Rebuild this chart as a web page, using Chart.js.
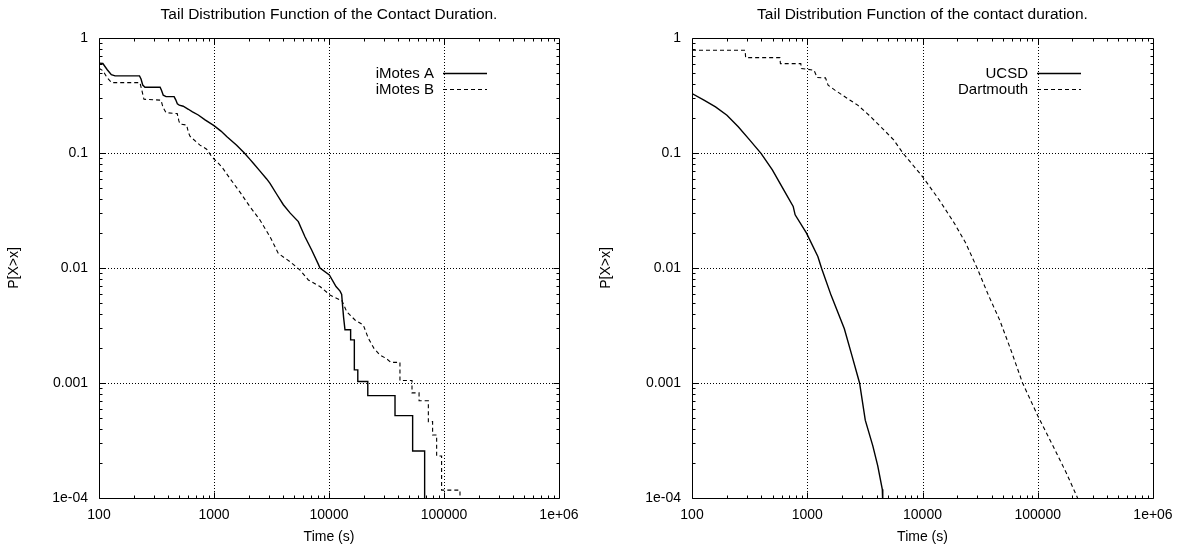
<!DOCTYPE html>
<html><head><meta charset="utf-8">
<script src="https://cdn.jsdelivr.net/npm/chart.js@4.4.1/dist/chart.umd.min.js"></script>
<style>
html,body{margin:0;padding:0;background:#fff;width:1185px;height:549px;overflow:hidden;}
#c1{position:absolute;left:0;top:0;}
#c2{position:absolute;left:592px;top:0;}
</style></head><body>
<canvas id="c1" width="592" height="549"></canvas>
<canvas id="c2" width="593" height="549"></canvas>
<script>
// ---- tick values & labels ----
const xTicks = [100, 1000, 10000, 100000, 1000000];
const xTickLabels = ['100', '1000', '10000', '100000', '1e+06'];
const yTicks = [1e-4, 1e-3, 1e-2, 1e-1, 1];
const yTickLabels = ['1e-04', '0.001', '0.01', '0.1', '1'];

// ---- left chart series ----
const imotesATime = [100,108,118,128,138,225,232,240,251,340,350,362,383,450,465,480,499,540,599,650,730,836,1000,1150,1289,1574,1836,2055,2198,2513,2870,3069,3500,4009,4600,5411,6180,7067,8070,8350,10070,11510,12480,12890,13100,13400,13770,15420,15420,16610,16610,17800,17800,21740,21740,37500,37500,53370,53370,67870,67870];
const imotesAProb = [0.605,0.6,0.53,0.48,0.468,0.468,0.44,0.39,0.373,0.373,0.35,0.318,0.309,0.309,0.29,0.268,0.261,0.255,0.24,0.228,0.214,0.194,0.173,0.155,0.139,0.117,0.1,0.088,0.0814,0.0695,0.0595,0.0545,0.044,0.0355,0.03,0.0253,0.0187,0.01435,0.0108,0.01,0.0087,0.0069,0.0063,0.0059,0.0048,0.0037,0.0029,0.0029,0.00237,0.00237,0.0013,0.0013,0.00103,0.00103,0.000776,0.000776,0.00052,0.00052,0.000256,0.000256,0.00005];
const imotesBTime = [100,108,118,129,227,236,246,346,360,383,479,495,506,578,600,618,700,755,863,955,1166,1377,1700,2055,2513,3069,3622,4580,5600,6610,8350,10200,12480,12890,14260,16830,19880,21970,24600,27700,31300,34600,41400,41400,52700,52700,60700,60700,73100,73100,79600,79600,86300,86300,95300,95300,137700,137700];
const imotesBProb = [0.545,0.52,0.45,0.409,0.409,0.35,0.293,0.288,0.25,0.224,0.22,0.19,0.179,0.175,0.15,0.14,0.125,0.117,0.108,0.093,0.076,0.06,0.045,0.0341,0.0261,0.0187,0.0134,0.01135,0.0096,0.00787,0.0069,0.00582,0.00527,0.00527,0.00417,0.00353,0.00319,0.00245,0.002,0.00175,0.00164,0.00151,0.00151,0.00105,0.00105,0.00082,0.00082,0.0007,0.0007,0.000461,0.000461,0.000353,0.000353,0.000232,0.000232,0.000117,0.000117,0.00005];

// ---- right chart series ----
const ucsdTime = [100,127,160,201,252,316,397,498,625,755,785,985,1236,1333,1611,2098,2442,2844,3187,3706,4090,4480,4520];
const ucsdProb = [0.329,0.288,0.252,0.213,0.169,0.13,0.0993,0.0713,0.0478,0.0343,0.029,0.0201,0.0126,0.0099,0.00578,0.00296,0.00173,0.001,0.000475,0.000284,0.00019,0.000119,0.00009];
const dartTime = [100,289,292,579,585,879,890,1000,1145,1219,1440,1517,1738,2022,2353,2739,3437,4479,5623,6792,10000,13960,18890,23700,29760,37340,46880,58880,73850,100000,135400,176600,221500,226000];
const dartProb = [0.782,0.782,0.675,0.675,0.599,0.599,0.542,0.535,0.525,0.453,0.45,0.389,0.352,0.318,0.288,0.261,0.213,0.164,0.13,0.0993,0.0623,0.0391,0.0245,0.0165,0.01,0.0058,0.0035,0.0019,0.001,0.000519,0.000284,0.000166,0.0001,0.000095];

const FONT = "'Liberation Sans', Arial, Helvetica, sans-serif";
Chart.defaults.font.family = FONT;
Chart.defaults.color = '#000';

function series(label, xs, ys, dashed) {
  return {
    label: label,
    data: xs.map((x, i) => ({ x: x, y: ys[i] })),
    borderColor: '#000',
    borderWidth: dashed ? 1.1 : 1.4,
    borderDash: dashed ? [4, 3] : [],
    pointRadius: 0,
    tension: 0,
    fill: false
  };
}

const gnuFrame = {
  id: 'gnuFrame',
  beforeDatasetsDraw(chart) {
    const { ctx, chartArea: a, scales: { x, y } } = chart;
    ctx.save();
    ctx.strokeStyle = '#000';
    ctx.lineWidth = 1;
    ctx.setLineDash([1, 2]);
    ctx.beginPath();
    xTicks.slice(1, -1).forEach(v => {
      const px = Math.round(x.getPixelForValue(v)) + 0.5;
      ctx.moveTo(px, a.top); ctx.lineTo(px, a.bottom);
    });
    yTicks.slice(1, -1).forEach(v => {
      const py = Math.round(y.getPixelForValue(v)) + 0.5;
      ctx.moveTo(a.left, py); ctx.lineTo(a.right, py);
    });
    ctx.stroke();
    ctx.restore();
  },
  afterDatasetsDraw(chart) {
    const { ctx, chartArea: a, scales: { x, y } } = chart;
    ctx.save();
    ctx.strokeStyle = '#000';
    ctx.lineWidth = 1;
    ctx.setLineDash([]);
    const L = Math.round(a.left) + 0.5, R = Math.round(a.right) + 0.5;
    const T = Math.round(a.top) + 0.5, B = Math.round(a.bottom) + 0.5;
    ctx.beginPath();
    ctx.rect(L, T, R - L, B - T);
    for (let d = 2; d <= 5; d++) {
      for (let m = 1; m <= 9; m++) {
        const v = m * Math.pow(10, d);
        const len = m === 1 ? 6 : 3;
        const px = Math.round(x.getPixelForValue(v)) + 0.5;
        ctx.moveTo(px, B); ctx.lineTo(px, B - len);
        ctx.moveTo(px, T); ctx.lineTo(px, T + len);
      }
    }
    for (let d = -4; d <= -1; d++) {
      for (let m = 1; m <= 9; m++) {
        const v = m * Math.pow(10, d);
        const len = m === 1 ? 6 : 3;
        const py = Math.round(y.getPixelForValue(v)) + 0.5;
        ctx.moveTo(L, py); ctx.lineTo(L + len, py);
        ctx.moveTo(R, py); ctx.lineTo(R - len, py);
      }
    }
    ctx.stroke();

    // key (legend) in gnuplot style
    ctx.font = '15px ' + FONT;
    ctx.fillStyle = '#000';
    ctx.textAlign = 'right';
    ctx.textBaseline = 'middle';
    chart.data.datasets.forEach((ds, i) => {
      const yy = Math.round(a.top + 34.5 + 16 * i) + 0.5;
      ctx.fillText(ds.label, a.right - 125, yy);
      ctx.beginPath();
      ctx.lineWidth = ds.borderWidth;
      ctx.setLineDash(ds.borderDash);
      ctx.moveTo(a.right - 116, yy);
      ctx.lineTo(a.right - 72, yy);
      ctx.stroke();
    });
    ctx.restore();
  }
};

function makeChart(id, titleText, datasets, padRight, yWidth) {
  return new Chart(document.getElementById(id), {
    type: 'line',
    data: { datasets: datasets },
    plugins: [gnuFrame],
    options: {
      responsive: false,
      animation: false,
      devicePixelRatio: 1,
      layout: { padding: { left: 0, right: padRight, top: 0, bottom: 0 } },
      plugins: {
        legend: { display: false },
        tooltip: { enabled: false },
        title: {
          display: true,
          text: titleText,
          fullSize: false,
          color: '#000',
          font: { size: 15.5, weight: 'normal', family: FONT },
          padding: { top: 5.7, bottom: 13.7 }
        }
      },
      scales: {
        x: {
          type: 'logarithmic',
          min: 100, max: 1000000,
          afterBuildTicks: s => { s.ticks = xTicks.map(v => ({ value: v })); },
          afterFit: s => { s.height = 51; },
          grid: { display: false, drawTicks: false },
          border: { display: false },
          ticks: {
            autoSkip: false, maxRotation: 0, minRotation: 0,
            padding: 8.6, color: '#000',
            font: { size: 14, family: FONT },
            callback: (v, i) => xTickLabels[i]
          },
          title: {
            display: true, text: 'Time (s)', color: '#000',
            font: { size: 14, family: FONT },
            padding: { top: 0, bottom: 3.6 }
          }
        },
        y: {
          type: 'logarithmic',
          min: 1e-4, max: 1,
          afterBuildTicks: s => { s.ticks = yTicks.map(v => ({ value: v })); },
          afterFit: s => { s.width = yWidth; },
          grid: { display: false, drawTicks: false },
          border: { display: false },
          ticks: {
            autoSkip: false, padding: 11, color: '#000',
            font: { size: 14, family: FONT },
            callback: (v, i) => yTickLabels[i]
          },
          title: {
            display: true, text: 'P[X>x]', color: '#000',
            font: { size: 14, family: FONT },
            padding: { top: 5.6, bottom: 0 }
          }
        }
      }
    }
  });
}

makeChart('c1', 'Tail Distribution Function of the Contact Duration.', [
  series('iMotes A', imotesATime, imotesAProb, false),
  series('iMotes B', imotesBTime, imotesBProb, true)
], 33, 99);

makeChart('c2', 'Tail Distribution Function of the contact duration.', [
  series('UCSD', ucsdTime, ucsdProb, false),
  series('Dartmouth', dartTime, dartProb, true)
], 32, 100);
</script>
</body></html>
